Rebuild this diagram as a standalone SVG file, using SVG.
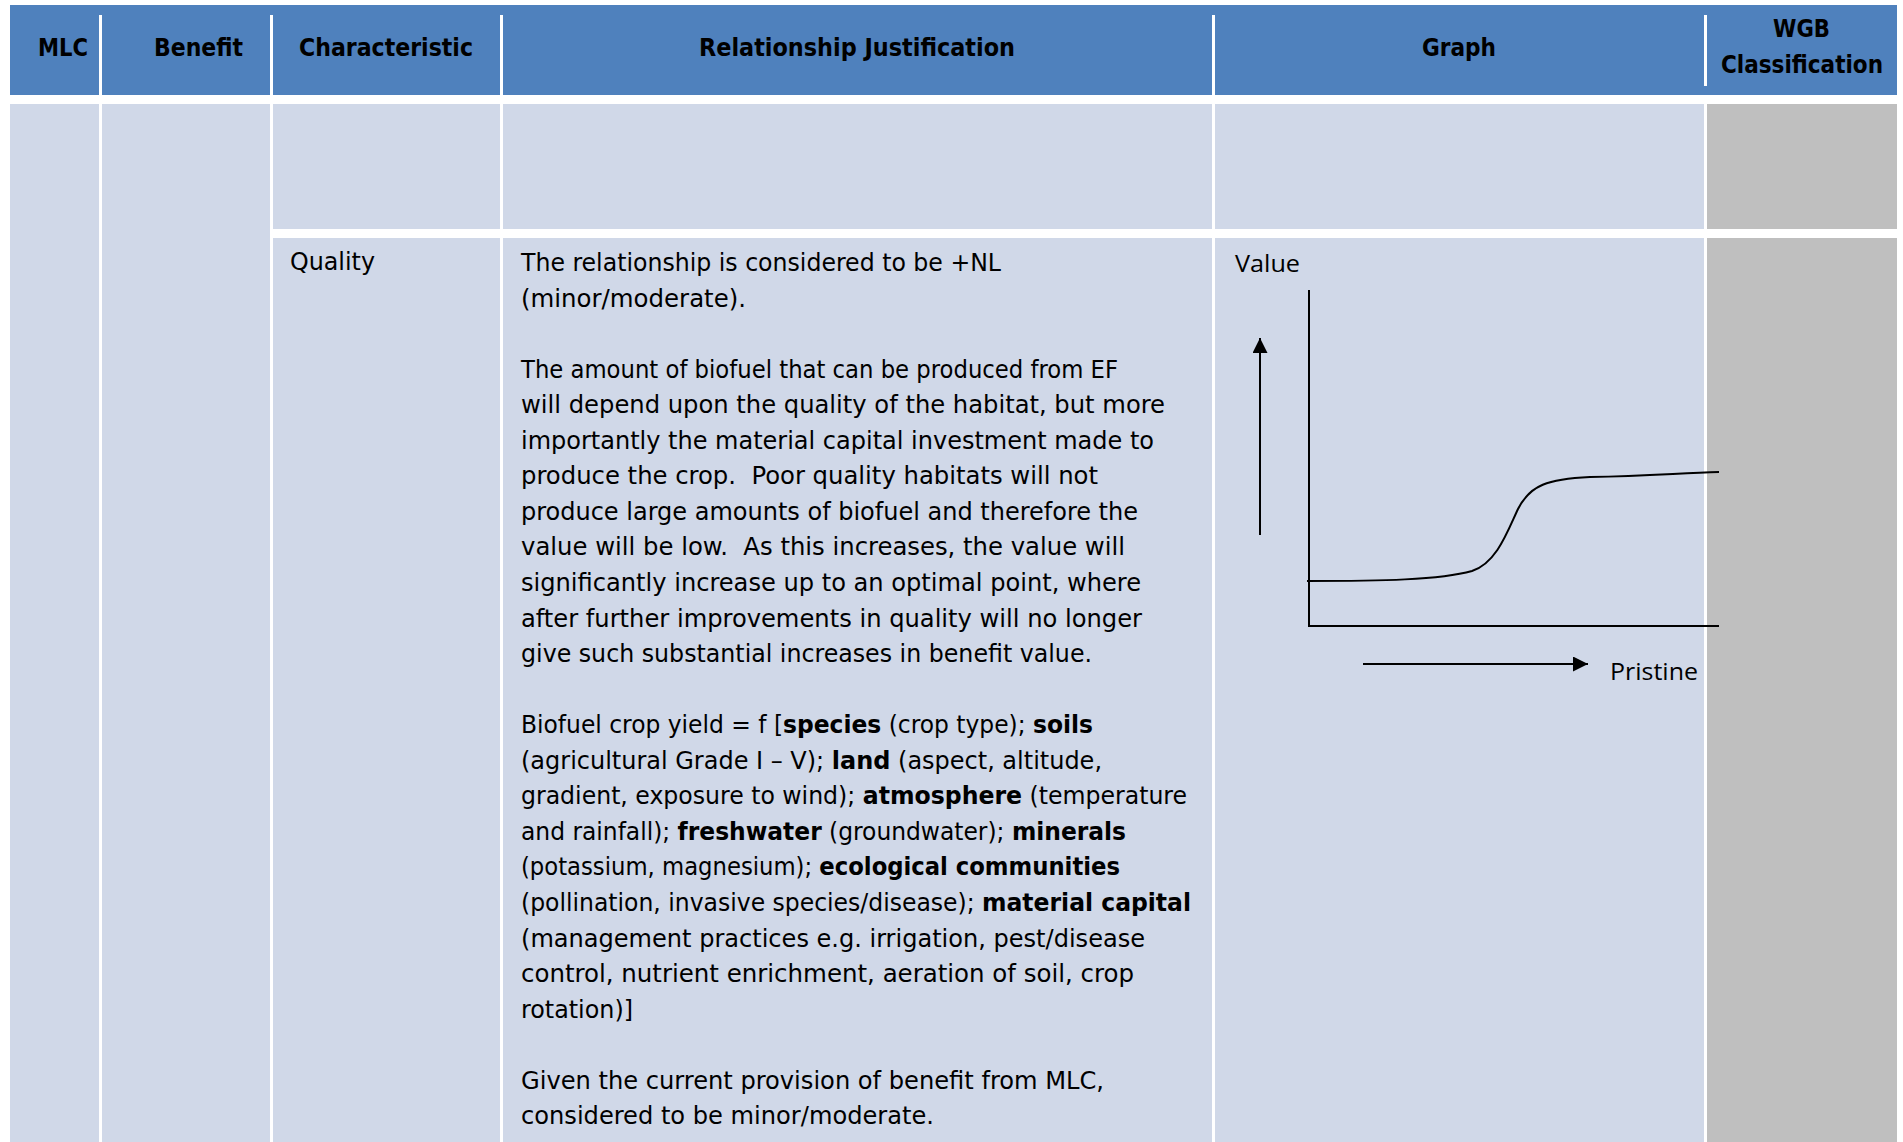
<svg xmlns="http://www.w3.org/2000/svg" width="1903" height="1142" viewBox="0 0 1903 1142">
<style>
.hd{fill:#4F81BD}
.bd{fill:#D0D8E8}
.gy{fill:#BFBFBF}
.dv{fill:#FFFFFF}
.ht{font-family:"DejaVu Sans","Liberation Sans",sans-serif;font-stretch:condensed;font-weight:bold;font-size:24px;fill:#000}
.tx{font-family:"DejaVu Sans","Liberation Sans",sans-serif;font-stretch:condensed;font-size:24px;fill:#000;white-space:pre}
.tx .b{font-weight:bold}
.gt{font-family:"Open Sans","Liberation Sans",sans-serif;font-size:23px;fill:#000}
.ax{stroke:#000;stroke-width:2;fill:none}
</style>
<defs>
<marker id="ah" viewBox="0 0 10 10" refX="10" refY="5" markerWidth="7.5" markerHeight="7.5" markerUnits="strokeWidth" orient="auto">
<path d="M0,0 L10,5 L0,10 Z" fill="#000"/>
</marker>
</defs>
<rect width="1903" height="1142" fill="#FFFFFF"/>

<g id="header">
<rect class="hd" x="10" y="5" width="1887" height="90"/>
<rect class="dv" x="99" y="15" width="3" height="80"/>
<rect class="dv" x="270" y="15" width="3" height="80"/>
<rect class="dv" x="500" y="15" width="3" height="80"/>
<rect class="dv" x="1212" y="15" width="3" height="80"/>
<rect class="dv" x="1704" y="15" width="3" height="71"/>
</g>

<g id="h-mlc"><text class="ht" x="38" y="56" textLength="50" lengthAdjust="spacingAndGlyphs">MLC</text></g>
<g id="h-benefit"><text class="ht" x="154" y="56" textLength="89" lengthAdjust="spacingAndGlyphs">Benefit</text></g>
<g id="h-characteristic"><text class="ht" x="299" y="56" textLength="174" lengthAdjust="spacingAndGlyphs">Characteristic</text></g>
<g id="h-relationship"><text class="ht" x="699" y="56" textLength="316" lengthAdjust="spacingAndGlyphs">Relationship Justification</text></g>
<g id="h-graph"><text class="ht" x="1422" y="56" textLength="74" lengthAdjust="spacingAndGlyphs">Graph</text></g>
<g id="h-wgb">
<text class="ht" x="1773" y="37" textLength="57" lengthAdjust="spacingAndGlyphs">WGB</text>
<text class="ht" x="1721" y="73" textLength="162" lengthAdjust="spacingAndGlyphs">Classification</text>
</g>

<g id="col-mlc"><rect class="bd" x="10" y="104" width="89" height="1038"/></g>
<g id="col-benefit"><rect class="bd" x="102" y="104" width="168" height="1038"/></g>

<g id="row1">
<rect class="bd" x="273" y="104" width="227" height="125"/>
<rect class="bd" x="503" y="104" width="709" height="125"/>
<rect class="bd" x="1215" y="104" width="489" height="125"/>
<rect class="gy" x="1707" y="104" width="190" height="125"/>
</g>

<g id="row2-cells">
<rect class="bd" x="273" y="238" width="227" height="904"/>
<rect class="bd" x="503" y="238" width="709" height="904"/>
<rect class="bd" x="1215" y="238" width="489" height="904"/>
<rect class="gy" x="1707" y="238" width="190" height="904"/>
</g>

<g id="characteristic-quality">
<text class="tx" x="290" y="270" textLength="85" lengthAdjust="spacingAndGlyphs">Quality</text>
</g>

<g id="relationship-justification">
<text class="tx" x="521" y="271" textLength="480" lengthAdjust="spacingAndGlyphs">The relationship is considered to be +NL</text>
<text class="tx" x="521" y="306.5" textLength="225" lengthAdjust="spacingAndGlyphs">(minor/moderate).</text>
<text class="tx" x="521" y="377.6" textLength="597" lengthAdjust="spacingAndGlyphs">The amount of biofuel that can be produced from EF</text>
<text class="tx" x="521" y="413.2" textLength="644" lengthAdjust="spacingAndGlyphs">will depend upon the quality of the habitat, but more</text>
<text class="tx" x="521" y="448.7" textLength="633" lengthAdjust="spacingAndGlyphs">importantly the material capital investment made to</text>
<text class="tx" x="521" y="484.3" textLength="577" lengthAdjust="spacingAndGlyphs">produce the crop.  Poor quality habitats will not</text>
<text class="tx" x="521" y="519.8" textLength="617" lengthAdjust="spacingAndGlyphs">produce large amounts of biofuel and therefore the</text>
<text class="tx" x="521" y="555.4" textLength="604" lengthAdjust="spacingAndGlyphs">value will be low.  As this increases, the value will</text>
<text class="tx" x="521" y="590.9" textLength="620" lengthAdjust="spacingAndGlyphs">significantly increase up to an optimal point, where</text>
<text class="tx" x="521" y="626.5" textLength="621" lengthAdjust="spacingAndGlyphs">after further improvements in quality will no longer</text>
<text class="tx" x="521" y="662" textLength="571" lengthAdjust="spacingAndGlyphs">give such substantial increases in benefit value.</text>
<text class="tx" x="521" y="733.2" textLength="572" lengthAdjust="spacingAndGlyphs">Biofuel crop yield = f [<tspan class="b">species</tspan> (crop type); <tspan class="b">soils</tspan></text>
<text class="tx" x="521" y="768.7" textLength="581" lengthAdjust="spacingAndGlyphs">(agricultural Grade I – V); <tspan class="b">land</tspan> (aspect, altitude,</text>
<text class="tx" x="521" y="804.3" textLength="666" lengthAdjust="spacingAndGlyphs">gradient, exposure to wind); <tspan class="b">atmosphere</tspan> (temperature</text>
<text class="tx" x="521" y="839.8" textLength="605" lengthAdjust="spacingAndGlyphs">and rainfall); <tspan class="b">freshwater</tspan> (groundwater); <tspan class="b">minerals</tspan></text>
<text class="tx" x="521" y="875.4" textLength="599" lengthAdjust="spacingAndGlyphs">(potassium, magnesium); <tspan class="b">ecological communities</tspan></text>
<text class="tx" x="521" y="910.9" textLength="670" lengthAdjust="spacingAndGlyphs">(pollination, invasive species/disease); <tspan class="b">material capital</tspan></text>
<text class="tx" x="521" y="946.5" textLength="624" lengthAdjust="spacingAndGlyphs">(management practices e.g. irrigation, pest/disease</text>
<text class="tx" x="521" y="982" textLength="613" lengthAdjust="spacingAndGlyphs">control, nutrient enrichment, aeration of soil, crop</text>
<text class="tx" x="521" y="1017.6" textLength="112" lengthAdjust="spacingAndGlyphs">rotation)]</text>
<text class="tx" x="521" y="1088.7" textLength="583" lengthAdjust="spacingAndGlyphs">Given the current provision of benefit from MLC,</text>
<text class="tx" x="521" y="1124.2" textLength="413" lengthAdjust="spacingAndGlyphs">considered to be minor/moderate.</text>
</g>

<g id="graph">
<text class="gt" x="1235" y="272" textLength="65" lengthAdjust="spacingAndGlyphs">Value</text>
<text class="gt" x="1610" y="680" textLength="88" lengthAdjust="spacingAndGlyphs">Pristine</text>
<path class="ax" d="M1309,290 L1309,626 L1719,626"/>
<path class="ax" d="M1307,581 C1380,581 1440,580 1472,571 C1497,563 1508,530 1518,509 C1530,485 1548,479 1590,477 C1650,476 1680,473 1719,472"/>
</g>

<g id="connectors">
<line class="ax" x1="1260" y1="535" x2="1260" y2="338" marker-end="url(#ah)"/>
<line class="ax" x1="1363" y1="664" x2="1588" y2="664" marker-end="url(#ah)"/>
</g>
</svg>
